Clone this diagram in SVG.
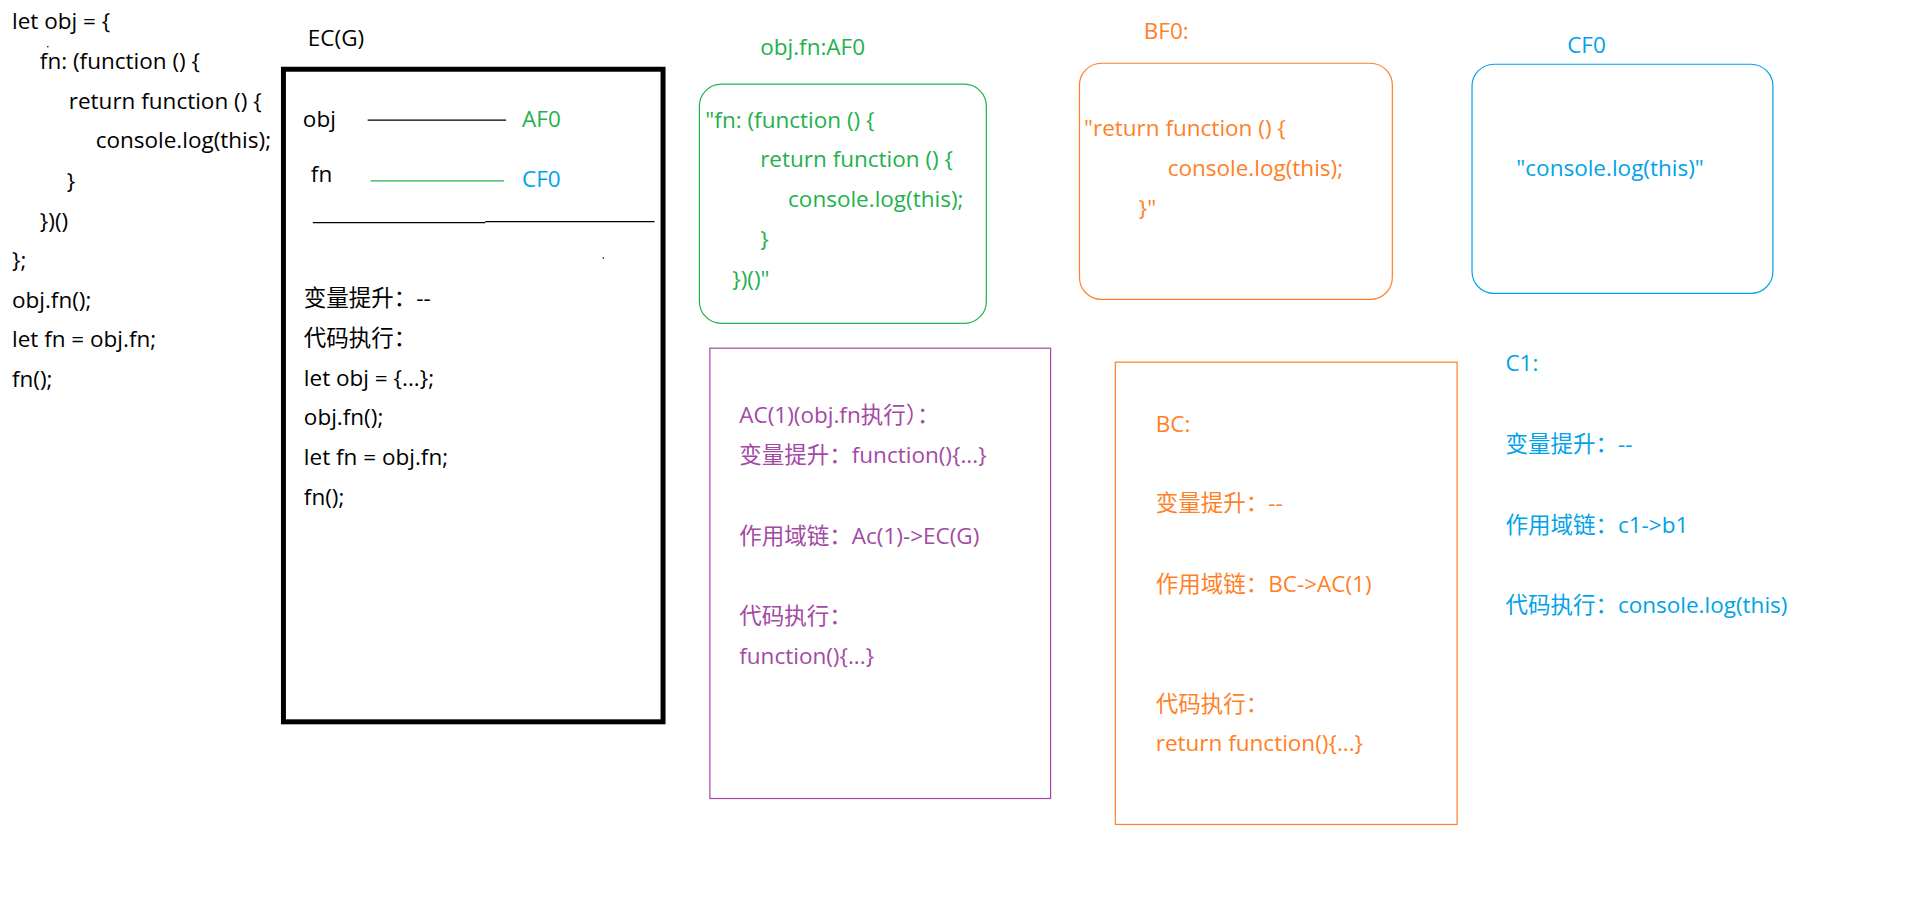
<svg xmlns="http://www.w3.org/2000/svg" width="1921" height="914" viewBox="0 0 1921 914">
<style>
text{font-family:"Open Sans","Noto Sans CJK SC",sans-serif;font-size:22.6px}
.k{fill:#000}.g{fill:#22B14C}.o{fill:#FF7F27}.b{fill:#00A2E8}.p{fill:#A349A4}
</style>
<rect width="1921" height="914" fill="#fff"/>
<g transform="scale(0.9963)">
<g id="code">
<text class="k" x="12" y="29">let obj = {</text>
<text class="k" x="40" y="69">fn: (function () {</text>
<text class="k" x="69" y="109">return function () {</text>
<text class="k" x="96" y="149">console.log(this);</text>
<text class="k" x="67" y="190">}</text>
<text class="k" x="40" y="230">})()</text>
<text class="k" x="12" y="269">};</text>
<text class="k" x="12" y="309">obj.fn();</text>
<text class="k" x="12" y="348">let fn = obj.fn;</text>
<text class="k" x="12" y="388">fn();</text>
<circle cx="48" cy="47" r="0.8" fill="#000"/>
</g>
<g id="ecg">
<text class="k" x="309" y="46">EC(G)</text>
<rect x="284.5" y="69.5" width="381" height="655" fill="none" stroke="#000" stroke-width="5"/>
<text class="k" x="304" y="127">obj</text>
<text class="g" x="524" y="127">AF0</text>
<text class="k" x="312" y="183">fn</text>
<text class="b" x="524" y="188">CF0</text>
<line x1="314" y1="223.5" x2="487" y2="223.5" stroke="#000" stroke-width="1.2"/>
<line x1="487" y1="222.5" x2="657" y2="222.5" stroke="#000" stroke-width="1.2"/>
<circle cx="605.5" cy="259" r="0.8" fill="#000"/>
<text class="k" x="305" y="307">变量提升：--</text>
<text class="k" x="305" y="347">代码执行：</text>
<text class="k" x="305" y="387">let obj = {...};</text>
<text class="k" x="305" y="427">obj.fn();</text>
<text class="k" x="305" y="467">let fn = obj.fn;</text>
<text class="k" x="305" y="507">fn();</text>
</g>
<g id="connectors">
<line x1="369" y1="120.5" x2="508" y2="120.5" stroke="#000" stroke-width="1.2"/>
<line x1="372" y1="181.5" x2="506" y2="181.5" stroke="#22B14C" stroke-width="1.2"/>
</g>
<g id="af0">
<text class="g" x="763" y="55">obj.fn:AF0</text>
<rect x="702" y="84.5" width="288" height="240" rx="22" fill="none" stroke="#22B14C" stroke-width="1.2"/>
<text class="g" x="708" y="128">"fn: (function () {</text>
<text class="g" x="763" y="168">return function () {</text>
<text class="g" x="791" y="208">console.log(this);</text>
<text class="g" x="763" y="248">}</text>
<text class="g" x="735" y="288">})()"</text>
</g>
<g id="bf0">
<text class="o" x="1148" y="39">BF0:</text>
<rect x="1083.5" y="63.5" width="314" height="237" rx="22" fill="none" stroke="#FF7F27" stroke-width="1.2"/>
<text class="o" x="1088" y="137">"return function () {</text>
<text class="o" x="1172" y="177">console.log(this);</text>
<text class="o" x="1143" y="217">}"</text>
</g>
<g id="cf0">
<text class="b" x="1573" y="53">CF0</text>
<rect x="1477.5" y="64.5" width="302" height="230" rx="22" fill="none" stroke="#00A2E8" stroke-width="1.2"/>
<text class="b" x="1522" y="177">"console.log(this)"</text>
</g>
<g id="ac1">
<rect x="712.5" y="349.5" width="342" height="452" fill="none" stroke="#A349A4" stroke-width="1.2"/>
<text class="p" x="742" y="425">AC(1)(obj.fn执行）：</text>
<text class="p" x="742" y="465">变量提升：function(){...}</text>
<text class="p" x="742" y="546">作用域链：Ac(1)-&gt;EC(G)</text>
<text class="p" x="742" y="626">代码执行：</text>
<text class="p" x="742" y="666">function(){...}</text>
</g>
<g id="bc">
<rect x="1119.5" y="363.5" width="343" height="464" fill="none" stroke="#FF7F27" stroke-width="1.2"/>
<text class="o" x="1160" y="434">BC:</text>
<text class="o" x="1160" y="513">变量提升：--</text>
<text class="o" x="1160" y="594">作用域链：BC-&gt;AC(1)</text>
<text class="o" x="1160" y="715">代码执行：</text>
<text class="o" x="1160" y="754">return function(){...}</text>
</g>
<g id="c1">
<text class="b" x="1511" y="372">C1:</text>
<text class="b" x="1511" y="454">变量提升：--</text>
<text class="b" x="1511" y="535">作用域链：c1-&gt;b1</text>
<text class="b" x="1511" y="615">代码执行：console.log(this)</text>
</g>
</g>
</svg>
